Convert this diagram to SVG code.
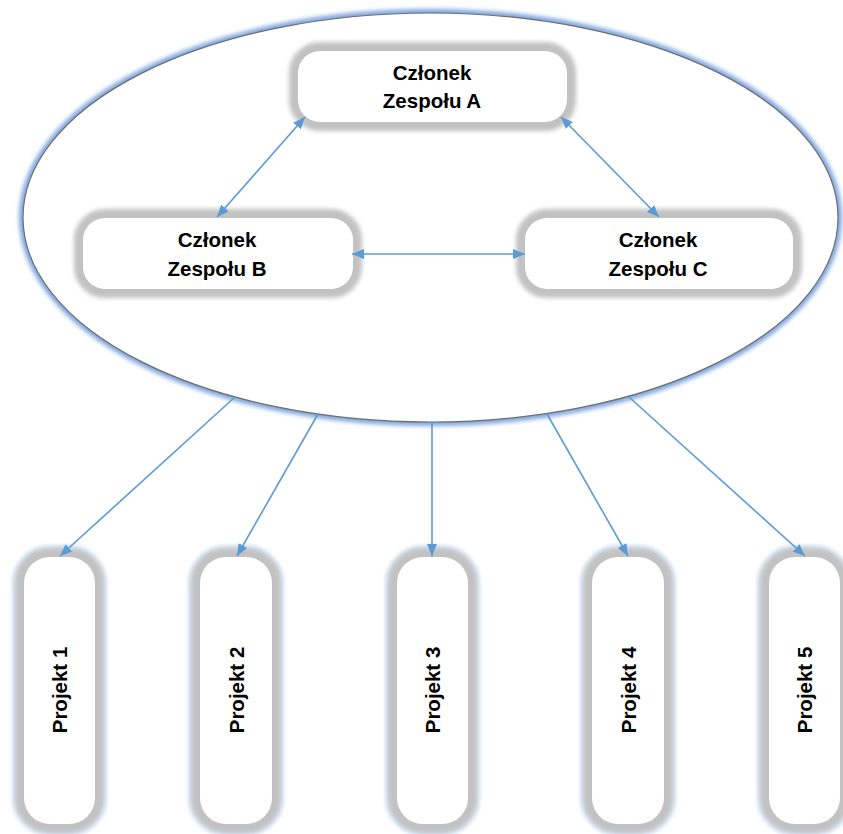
<svg xmlns="http://www.w3.org/2000/svg" width="843" height="834" viewBox="0 0 843 834">
<defs>
<style>
.t{font-family:"Liberation Sans",Arial,sans-serif;font-weight:bold;font-size:20.5px;fill:#000;text-anchor:middle}
.frame{fill:none;stroke:#c2c2c2;stroke-width:18;filter:url(#blur)}
.glow{fill:none;stroke:#d6e4f6;stroke-width:24;filter:url(#blur)}
.box{fill:#fff;stroke:none}
.c{fill:none;stroke:#5b9bd5;stroke-width:1.6}
</style>
<filter id="blur" x="-20%" y="-20%" width="140%" height="140%"><feGaussianBlur stdDeviation="2.2"/></filter>
<filter id="eblur" x="-5%" y="-5%" width="110%" height="110%"><feGaussianBlur stdDeviation="2"/></filter>
<marker id="ah" viewBox="0 0 12 10" refX="12" refY="5" markerWidth="12" markerHeight="10" markerUnits="userSpaceOnUse" orient="auto-start-reverse">
<path d="M0,0 L12,5 L0,10 Z" fill="#5b9bd5"/>
</marker>
</defs>
<rect width="843" height="834" fill="#fff"/>
<g id="team">
<ellipse cx="430.5" cy="217.5" rx="407.5" ry="204.5" fill="none" stroke="#7fa6df" stroke-width="8" filter="url(#eblur)"/>
<ellipse cx="430.5" cy="217.5" rx="407.5" ry="204.5" fill="#fff" stroke="#6e6e6e" stroke-width="1.2"/>
</g>
<g id="nodeA">
<rect class="frame" x="298" y="51" width="269" height="71" rx="22"/>
<rect class="box" x="298" y="51" width="269" height="71" rx="22"/>
<text class="t" x="432" y="80">Członek</text>
<text class="t" x="432" y="108">Zespołu A</text>
</g>
<g id="nodeB">
<rect class="frame" x="83" y="218" width="270" height="71" rx="22"/>
<rect class="box" x="83" y="218" width="270" height="71" rx="22"/>
<text class="t" x="217" y="247">Członek</text>
<text class="t" x="217" y="276">Zespołu B</text>
</g>
<g id="nodeC">
<rect class="frame" x="525" y="218" width="268" height="71" rx="22"/>
<rect class="box" x="525" y="218" width="268" height="71" rx="22"/>
<text class="t" x="658" y="247">Członek</text>
<text class="t" x="658" y="276">Zespołu C</text>
</g>
<g id="p1">
<rect class="glow" x="24" y="557" width="71" height="267" rx="26"/>
<rect class="frame" x="24" y="557" width="71" height="267" rx="26"/>
<rect class="box" x="24" y="557" width="71" height="267" rx="26"/>
<text class="t" transform="translate(67,690) rotate(-90)">Projekt 1</text>
</g>
<g id="p2">
<rect class="glow" x="200" y="557" width="72" height="267" rx="26"/>
<rect class="frame" x="200" y="557" width="72" height="267" rx="26"/>
<rect class="box" x="200" y="557" width="72" height="267" rx="26"/>
<text class="t" transform="translate(243.5,690) rotate(-90)">Projekt 2</text>
</g>
<g id="p3">
<rect class="glow" x="397" y="557" width="71" height="267" rx="26"/>
<rect class="frame" x="397" y="557" width="71" height="267" rx="26"/>
<rect class="box" x="397" y="557" width="71" height="267" rx="26"/>
<text class="t" transform="translate(440,690) rotate(-90)">Projekt 3</text>
</g>
<g id="p4">
<rect class="glow" x="592" y="557" width="72" height="267" rx="26"/>
<rect class="frame" x="592" y="557" width="72" height="267" rx="26"/>
<rect class="box" x="592" y="557" width="72" height="267" rx="26"/>
<text class="t" transform="translate(635.5,690) rotate(-90)">Projekt 4</text>
</g>
<g id="p5">
<rect class="glow" x="769" y="557" width="71" height="267" rx="26"/>
<rect class="frame" x="769" y="557" width="71" height="267" rx="26"/>
<rect class="box" x="769" y="557" width="71" height="267" rx="26"/>
<text class="t" transform="translate(812,690) rotate(-90)">Projekt 5</text>
</g>
<g id="connectors">
<line class="c" x1="305" y1="117" x2="217" y2="217" marker-start="url(#ah)" marker-end="url(#ah)"/>
<line class="c" x1="561" y1="117" x2="659" y2="217" marker-start="url(#ah)" marker-end="url(#ah)"/>
<line class="c" x1="352" y1="254" x2="525" y2="254" marker-start="url(#ah)" marker-end="url(#ah)"/>
<line class="c" x1="235" y1="397" x2="60" y2="556" marker-end="url(#ah)"/>
<line class="c" x1="318" y1="414" x2="237" y2="556" marker-end="url(#ah)"/>
<line class="c" x1="432" y1="422" x2="432" y2="556" marker-end="url(#ah)"/>
<line class="c" x1="547" y1="414" x2="628" y2="556" marker-end="url(#ah)"/>
<line class="c" x1="629" y1="397" x2="805" y2="556" marker-end="url(#ah)"/>
</g>
</svg>
